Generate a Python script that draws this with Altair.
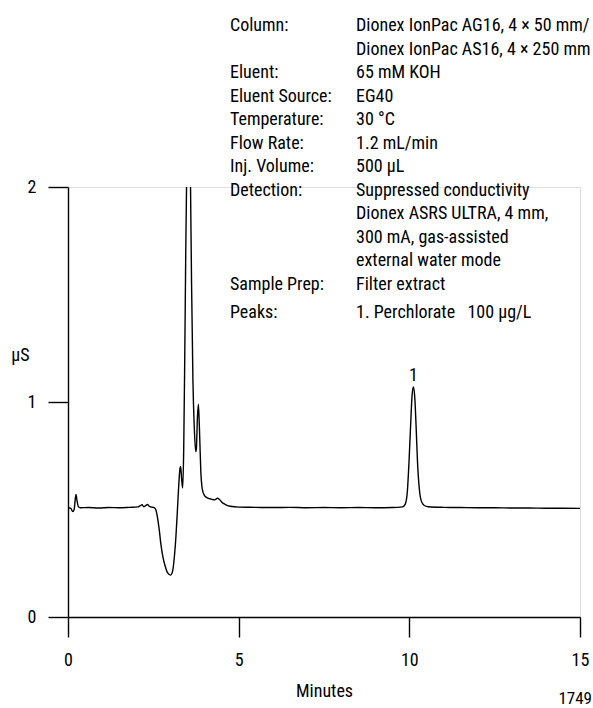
import altair as alt
import pandas as pd

# Chromatogram trace (minutes, µS)
minutes = [0.00, 0.08, 0.14, 0.18, 0.21, 0.235, 0.26, 0.30, 0.36, 0.6, 0.9, 1.2, 1.5, 1.8,
           2.05, 2.12, 2.17, 2.22, 2.28, 2.33, 2.38, 2.45, 2.52, 2.57, 2.62, 2.67, 2.72,
           2.78, 2.85, 2.92, 3.00, 3.06, 3.11, 3.16, 3.20, 3.24, 3.28, 3.30, 3.33, 3.36,
           3.39, 3.42, 3.45, 3.48, 3.52, 3.56, 3.59, 3.62, 3.66, 3.70, 3.74, 3.76, 3.79,
           3.82, 3.85, 3.89, 3.94, 4.00, 4.10, 4.20, 4.30, 4.38, 4.43, 4.50, 4.60, 4.75,
           5.00, 5.5, 6.0, 6.5, 7.0, 7.5, 8.0, 8.5, 9.0, 9.5, 9.80, 9.88, 9.94, 9.99,
           10.04, 10.08, 10.12, 10.16, 10.20, 10.24, 10.29, 10.35, 10.43, 10.55, 11.0,
           11.5, 12.0, 12.5, 13.0, 13.5, 14.0, 14.5, 15.0]
signal = [0.508, 0.506, 0.49, 0.50, 0.545, 0.57, 0.545, 0.515, 0.508, 0.509, 0.507, 0.509,
          0.508, 0.510, 0.512, 0.518, 0.522, 0.513, 0.519, 0.523, 0.515, 0.511, 0.509, 0.50,
          0.465, 0.41, 0.34, 0.28, 0.235, 0.205, 0.195, 0.21, 0.27, 0.37, 0.48, 0.60, 0.69,
          0.70, 0.64, 0.60, 0.78, 1.20, 1.70, 2.10, 2.50, 2.40, 2.00, 1.55, 1.10, 0.88,
          0.77, 0.78, 0.92, 0.99, 0.88, 0.68, 0.59, 0.565, 0.553, 0.548, 0.545, 0.552,
          0.548, 0.535, 0.524, 0.515, 0.511, 0.510, 0.509, 0.510, 0.508, 0.509, 0.508,
          0.509, 0.508, 0.509, 0.512, 0.525, 0.58, 0.72, 0.90, 1.03, 1.07, 1.02, 0.88,
          0.72, 0.60, 0.54, 0.52, 0.513, 0.510, 0.509, 0.508, 0.508, 0.507, 0.507, 0.506,
          0.506, 0.505]

peak_names = ["1"]
peak_minutes = [10.12]
peak_heights = [1.07]

x_ticks = [0, 5, 10, 15]
y_ticks = [0, 1, 2]

info_labels = ["Column:", "", "Eluent:", "Eluent Source:", "Temperature:", "Flow Rate:",
               "Inj. Volume:", "Detection:", "", "", "", "Sample Prep:", "Peaks:"]
info_values = ["Dionex IonPac AG16, 4 × 50 mm/", "Dionex IonPac AS16, 4 × 250 mm",
               "65 mM KOH", "EG40", "30 °C", "1.2 mL/min", "500 µL",
               "Suppressed conductivity", "Dionex ASRS ULTRA, 4 mm,",
               "300 mA, gas-assisted", "external water mode", "Filter extract",
               "1. Perchlorate\u00a0\u00a0 100 µg/L"]
info_rows = [0, 1, 2, 3, 4, 5, 6, 7, 8, 9, 10, 11, 12.2]

FONT = "Roboto Condensed"
FS = 18
W, H = 512, 430
LEFT, TOP = 68, 187

trace = pd.DataFrame({"t": minutes, "v": signal})
peaks = pd.DataFrame({"name": peak_names, "t": peak_minutes, "v": peak_heights})
info = pd.DataFrame({
    "label": info_labels,
    "value": info_values,
    "ypix": [26 + r * 23.5 - TOP for r in info_rows],
})

xscale = alt.Scale(domain=[0, 15], nice=False, zero=False)
yscale = alt.Scale(domain=[0, 2], nice=False, zero=False)

line = alt.Chart(trace).mark_line(
    color="black", strokeWidth=1.4, interpolate="monotone", clip=True
).encode(
    x=alt.X("t:Q", scale=xscale,
            axis=alt.Axis(values=x_ticks, title="Minutes", titleFont=FONT,
                          titleFontSize=FS, titleFontWeight="normal", titleColor="black",
                          titleY=74, titleBaseline="middle", labelFont=FONT,
                          labelFontSize=FS, labelColor="black", labelPadding=14,
                          tickSize=20, tickColor="black", tickWidth=1.4,
                          domainColor="black", domainWidth=1.4, grid=False,
                          labelFlush=False, labelOverlap=False)),
    y=alt.Y("v:Q", scale=yscale,
            axis=alt.Axis(values=y_ticks, labelExpr="toString(datum.value)", title="µS",
                          titleFont=FONT, titleFontSize=FS, titleFontWeight="normal",
                          titleColor="black", titleAngle=0, titleX=-48, titleY=168,
                          titleAlign="center", titleBaseline="middle", labelFont=FONT,
                          labelFontSize=FS, labelColor="black", labelPadding=12,
                          tickSize=20, tickColor="black", tickWidth=1.4,
                          domainColor="black", domainWidth=1.4, grid=False,
                          labelFlush=False, labelOverlap=False)),
)

peak_text = alt.Chart(peaks).mark_text(
    font=FONT, fontSize=FS, color="black", baseline="bottom", dy=-2
).encode(x=alt.X("t:Q", scale=xscale), y=alt.Y("v:Q", scale=yscale), text="name:N")

info_lab = alt.Chart(info).mark_text(
    font=FONT, fontSize=FS, color="black", align="left", baseline="middle"
).encode(x=alt.value(230 - LEFT), y=alt.Y("ypix:Q", scale=None), text="label:N")

info_val = alt.Chart(info).mark_text(
    font=FONT, fontSize=FS, color="black", align="left", baseline="middle"
).encode(x=alt.value(356 - LEFT), y=alt.Y("ypix:Q", scale=None), text="value:N")

code_df = pd.DataFrame({"code": ["1749"]})
code_text = alt.Chart(code_df).mark_text(
    font=FONT, fontSize=FS - 1, color="black", align="right", baseline="middle"
).encode(x=alt.value(592 - LEFT), y=alt.value(699 - TOP), text="code:N")

chart = alt.layer(line, peak_text, info_lab, info_val, code_text).properties(
    width=W, height=H,
    padding={"left": LEFT, "top": TOP, "right": 593 - LEFT - W, "bottom": 708 - TOP - H},
    autosize=alt.AutoSizeParams(type="none"),
).configure_view(stroke=None).configure(background="white")

chart.save("out.html", embed_options={"renderer": "svg", "actions": False})
